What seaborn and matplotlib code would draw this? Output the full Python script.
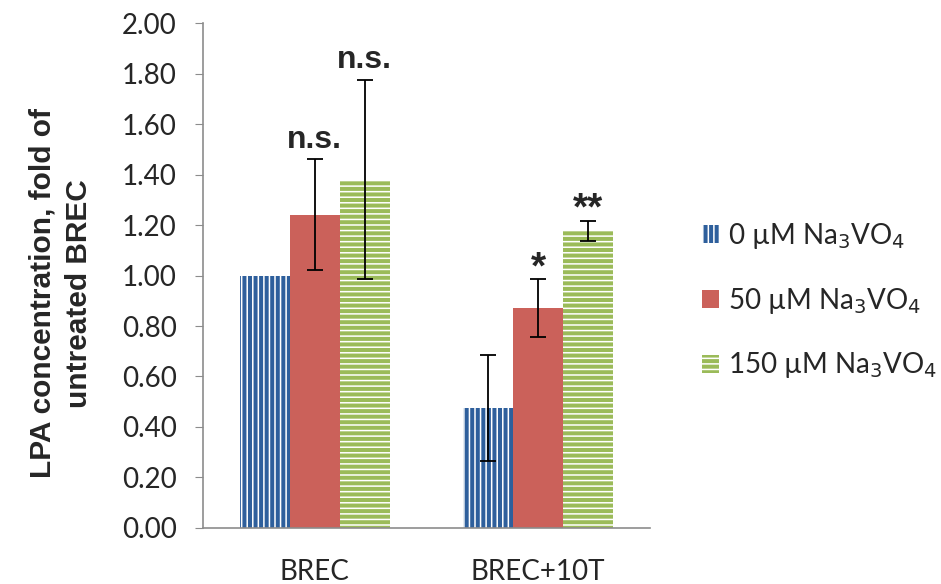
import pandas as pd
import matplotlib
matplotlib.use('Agg')
import matplotlib.pyplot as plt
import seaborn as sns

# Dados
groups = ['BREC', 'BREC+10T']
doses = ['0 µM Na$_3$VO$_4$', '50 µM Na$_3$VO$_4$', '150 µM Na$_3$VO$_4$']
means_brec = [1.00, 1.24, 1.38]
means_10t = [0.475, 0.87, 1.175]
err_brec = [0.0, 0.22, 0.395]
err_10t = [0.21, 0.115, 0.04]
stars_brec = ['', 'n.s.', 'n.s.']
stars_10t = ['', '*', '**']

colors = ['#2E5F9C', '#CB615A', '#9BBB59']
hatches = ['|||', '', '---']

sns.set_style('white')
plt.rcParams['font.family'] = ['Lato', 'DejaVu Sans']
plt.rcParams['hatch.linewidth'] = 1.1

df = pd.DataFrame({
    'group': [groups[0]] * 3 + [groups[1]] * 3,
    'dose': doses * 2,
    'value': means_brec + means_10t,
})
errs = [err_brec, err_10t]
stars = [stars_brec, stars_10t]

fig = plt.figure(figsize=(9.41, 5.84), dpi=100)
ax = fig.add_axes([0.2157, 0.0959, 0.475, 0.8647])

sns.barplot(data=df, x='group', y='value', hue='dose', palette=colors,
            errorbar=None, width=0.672, ax=ax, saturation=1)

bar_conts = list(ax.containers)
for j, cont in enumerate(bar_conts):
    for i, bar in enumerate(cont.patches):
        bar.set_hatch(hatches[j])
        bar.set_edgecolor('white' if hatches[j] else colors[j])
        bar.set_linewidth(0)
        x = bar.get_x() + bar.get_width() / 2
        h = bar.get_height()
        e = errs[i][j]
        if e > 0:
            ax.errorbar(x, h, yerr=e, color='black', capsize=6, lw=1.3, capthick=1.3)
        if stars[i][j] == 'n.s.':
            ax.text(x, h + e + 0.045, stars[i][j], ha='center', va='baseline',
                    fontsize=23, fontweight='bold', family='Liberation Sans')
        elif stars[i][j]:
            ax.text(x, h + e + 0.005, stars[i][j], ha='center', va='baseline',
                    fontsize=28, fontweight='bold', family='Liberation Sans')

ax.set_ylim(0, 2.0)
ax.set_xlim(-0.5, 1.5)
ax.set_yticks([i * 0.2 for i in range(11)])
ax.set_yticklabels([f'{i * 0.2:.2f}' for i in range(11)], fontsize=20)
ax.set_xticks([0, 1])
ax.set_xticklabels(groups, fontsize=20)
ax.set_xticks([-0.5, 0.5, 1.5], minor=True)
ax.tick_params(axis='x', which='major', length=0, pad=22)
ax.tick_params(axis='x', which='minor', length=8, color='#8c8c8c', direction='out')
ax.tick_params(axis='y', length=6, color='#8c8c8c', direction='out', left=True, pad=13)
ax.set_xlabel('')
ax.set_ylabel('LPA concentration, fold of\nuntreated BREC', fontsize=21.5,
              fontweight='bold', family='Liberation Sans', linespacing=1.4)
ax.yaxis.set_label_coords(-0.245, 0.465)
for s in ['top', 'right']:
    ax.spines[s].set_visible(False)
for s in ['left', 'bottom']:
    ax.spines[s].set_color('#8c8c8c')
    ax.spines[s].set_linewidth(1.2)

leg = ax.legend(loc='center left', bbox_to_anchor=(702 / 941, 0.485),
                bbox_transform=fig.transFigure, frameon=False,
                fontsize=20, handlelength=0.62, handleheight=0.62,
                handletextpad=0.3, labelspacing=1.25, borderaxespad=0, borderpad=0)
for j, hnd in enumerate(leg.legend_handles):
    hnd.set_hatch(hatches[j])
    hnd.set_edgecolor('white' if hatches[j] else colors[j])
    hnd.set_linewidth(0)

fig.savefig('out.png', dpi=100)
